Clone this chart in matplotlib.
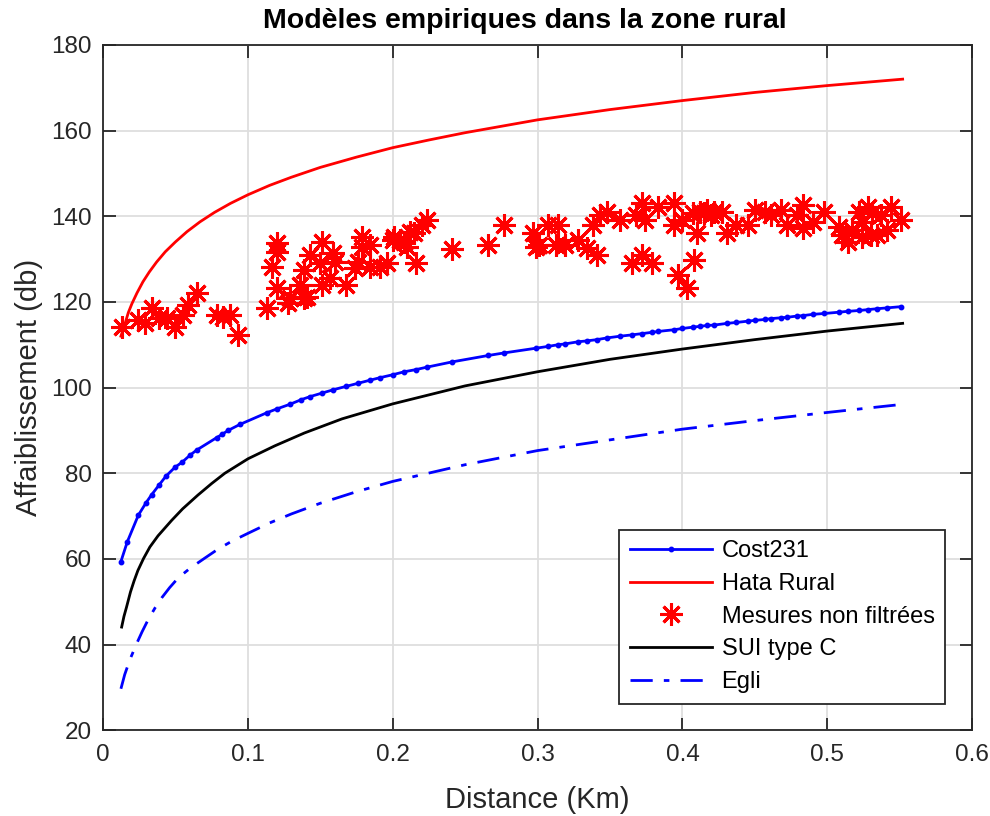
import matplotlib
matplotlib.use("Agg")
import matplotlib.pyplot as plt

plt.rcParams['font.family'] = ['Liberation Sans', 'DejaVu Sans']

# ---- data ----
meas_d = [0.013, 0.024, 0.029, 0.034, 0.039, 0.044, 0.050, 0.055, 0.059, 0.065,
          0.079, 0.083, 0.088, 0.093, 0.113, 0.117, 0.120, 0.120, 0.120, 0.128,
          0.129, 0.136, 0.139, 0.141, 0.139, 0.143, 0.150, 0.151, 0.151, 0.157,
          0.159, 0.160, 0.168, 0.174, 0.176, 0.179, 0.179, 0.184, 0.184, 0.191,
          0.196, 0.200, 0.201, 0.205, 0.208, 0.210, 0.212, 0.215, 0.216, 0.220,
          0.224, 0.241, 0.266, 0.277, 0.297, 0.299, 0.301, 0.307, 0.313, 0.314,
          0.319, 0.328, 0.334, 0.338, 0.341, 0.343, 0.348, 0.357, 0.365, 0.368,
          0.372, 0.372, 0.374, 0.379, 0.383, 0.394, 0.394, 0.397, 0.400, 0.403,
          0.407, 0.408, 0.410, 0.412, 0.415, 0.417, 0.420, 0.422, 0.427, 0.431,
          0.437, 0.445, 0.450, 0.457, 0.461, 0.468, 0.472, 0.479, 0.483, 0.483,
          0.490, 0.498, 0.508, 0.510, 0.514, 0.517, 0.522, 0.524, 0.524, 0.528,
          0.530, 0.531, 0.534, 0.537, 0.541, 0.544, 0.551]
meas_v = [114.1, 115.7, 115.0, 118.6, 116.2, 116.2, 114.1, 116.9, 119.3, 122.0,
          116.9, 116.4, 116.9, 112.2, 118.6, 128.1, 133.7, 131.6, 123.2, 119.7,
          120.9, 123.9, 120.9, 121.1, 127.4, 130.9, 129.1, 134.0, 123.9, 125.6,
          131.4, 129.3, 123.9, 127.9, 129.3, 135.1, 132.8, 133.3, 128.1, 128.1,
          129.1, 134.4, 135.1, 134.4, 134.0, 132.8, 136.3, 136.1, 129.1, 137.9,
          139.1, 132.3, 133.3, 137.9, 136.1, 132.8, 133.3, 137.9, 133.3, 137.9,
          133.3, 134.4, 132.6, 137.9, 131.0, 140.3, 141.0, 139.1, 129.1, 140.3,
          143.1, 131.0, 139.1, 129.1, 142.2, 143.1, 137.9, 126.3, 139.1, 123.2,
          140.7, 129.8, 136.1, 141.0, 140.7, 141.4, 140.3, 141.0, 141.0, 136.1,
          137.9, 137.9, 141.4, 141.0, 140.3, 141.4, 137.9, 140.3, 142.6, 137.2,
          138.6, 141.0, 137.5, 135.6, 134.0, 136.8, 141.0, 138.6, 135.1, 142.2,
          135.6, 140.7, 135.6, 140.3, 136.8, 142.2, 139.1]

cost_d = [0.0124, 0.0168, 0.0244, 0.0297, 0.0336, 0.0386, 0.0434, 0.0497, 0.0547, 0.060,
          0.0646, 0.0784, 0.0823, 0.0864, 0.0945, 0.1129, 0.1198, 0.129, 0.137, 0.143,
          0.151, 0.159, 0.168, 0.176, 0.184, 0.191, 0.200, 0.208, 0.216, 0.224,
          0.241, 0.266, 0.277, 0.299, 0.307, 0.314, 0.319, 0.328, 0.334, 0.341,
          0.348, 0.357, 0.365, 0.372, 0.379, 0.383, 0.394, 0.400, 0.407, 0.412,
          0.417, 0.422, 0.431, 0.437, 0.445, 0.450, 0.457, 0.461, 0.468, 0.472,
          0.479, 0.483, 0.490, 0.498, 0.508, 0.514, 0.522, 0.528, 0.534, 0.541, 0.551]
cost_v = [59.4, 64.0, 70.2, 73.1, 75.0, 77.2, 79.3, 81.4, 82.6, 84.2,
          85.4, 88.3, 89.1, 90.0, 91.4, 94.1, 95.0, 96.1, 97.2, 97.9,
          98.7, 99.5, 100.3, 101.0, 101.7, 102.3, 103.0, 103.7, 104.2, 104.8,
          106.0, 107.5, 108.1, 109.2, 109.6, 110.0, 110.2, 110.7, 110.9, 111.2,
          111.6, 112.0, 112.3, 112.6, 112.9, 113.1, 113.5, 113.8, 114.1, 114.3,
          114.5, 114.6, 115.0, 115.2, 115.5, 115.7, 115.9, 116.1, 116.3, 116.4,
          116.7, 116.8, 117.1, 117.3, 117.6, 117.8, 118.0, 118.2, 118.4, 118.6, 118.9]

hata_d = [0.0124, 0.0153, 0.0175, 0.020, 0.0235, 0.0276, 0.032, 0.037, 0.043, 0.050,
          0.058, 0.067, 0.077, 0.088, 0.100, 0.115, 0.130, 0.150, 0.175, 0.200,
          0.225, 0.250, 0.275, 0.300, 0.350, 0.400, 0.450, 0.500, 0.552]
hata_v = [112.0, 115.0, 117.5, 119.6, 122.1, 124.7, 127.0, 129.3, 131.7, 134.0,
          136.4, 138.7, 140.9, 143.0, 145.0, 147.2, 149.1, 151.4, 153.8, 156.0,
          157.8, 159.5, 161.0, 162.5, 164.9, 167.0, 168.9, 170.5, 172.0]

sui_d = [0.0129, 0.0145, 0.0163, 0.019, 0.0215, 0.0241, 0.028, 0.0324, 0.038, 0.0474,
         0.055, 0.0655, 0.075, 0.0841, 0.1002, 0.1186, 0.139, 0.165, 0.200, 0.250,
         0.300, 0.350, 0.400, 0.450, 0.500, 0.552]
sui_v = [44.1, 46.6, 48.8, 52.3, 54.9, 57.3, 60.1, 62.8, 65.4, 69.0,
         71.7, 74.9, 77.6, 80.0, 83.4, 86.4, 89.4, 92.7, 96.2, 100.4,
         103.7, 106.6, 109.0, 111.2, 113.2, 115.0]

egli_d = [0.0124, 0.015, 0.0186, 0.0232, 0.027, 0.0313, 0.036, 0.0405, 0.046, 0.052,
          0.060, 0.0703, 0.079, 0.0887, 0.1002, 0.115, 0.130, 0.150, 0.175, 0.200,
          0.250, 0.300, 0.350, 0.400, 0.450, 0.500, 0.552]
egli_v = [29.7, 33.0, 36.5, 40.2, 43.0, 45.9, 48.6, 50.9, 53.3, 55.6,
          57.8, 60.2, 62.2, 64.1, 66.0, 68.4, 70.5, 73.0, 75.7, 78.1,
          82.0, 85.3, 87.8, 90.3, 92.3, 94.2, 96.1]

x_ticks = [0, 0.1, 0.2, 0.3, 0.4, 0.5, 0.6]
y_ticks = [20, 40, 60, 80, 100, 120, 140, 160, 180]

# ---- figure ----
fig = plt.figure(figsize=(9.9, 8.16), dpi=100)
ax = fig.add_axes([0.104, 0.105, 0.878, 0.840])

ax.plot(cost_d, cost_v, '-', color='#0000ff', lw=2, marker='o', ms=3.2,
        label='Cost231', zorder=3)
ax.plot(hata_d, hata_v, '-', color='#ff0000', lw=2, label='Hata Rural', zorder=3)
ax.plot(meas_d, meas_v, linestyle='none', marker=(8, 2, 0), ms=16, mew=2.2,
        color='#ff0000', label='Mesures non filtrées', zorder=4)
ax.plot(sui_d, sui_v, '-', color='black', lw=2, label='SUI type C', zorder=3)
ax.plot(egli_d, egli_v, color='#0000ff', lw=2, dashes=(8, 4, 2, 4), label='Egli', zorder=3)

ax.set_xlim(0, 0.6)
ax.set_ylim(20, 180)
ax.set_xticks(x_ticks)
ax.set_yticks(y_ticks)
ax.set_xticklabels(['0', '0.1', '0.2', '0.3', '0.4', '0.5', '0.6'])
ax.grid(True, color='#dedede', lw=1.3)
ax.set_axisbelow(True)
ax.tick_params(direction='in', length=9, width=1.3, top=True, right=True,
               labelsize=17.5, colors='#262626')
ax.tick_params(axis='x', pad=10)
ax.tick_params(axis='y', pad=8)
for s in ax.spines.values():
    s.set_color('#262626')
    s.set_linewidth(1.3)

ax.set_xlabel('Distance (Km)', fontsize=21, color='#262626', labelpad=14)
ax.set_ylabel('Affaiblissement (db)', fontsize=21, color='#262626', labelpad=6)
ax.set_title('Modèles empiriques dans la zone rural', fontsize=20.5,
             fontweight='bold', pad=12, x=0.485)

leg = ax.legend(loc='lower right', bbox_to_anchor=(0.969, 0.039), borderaxespad=0,
                fontsize=17, numpoints=1, handlelength=3.5, handletextpad=0.4,
                labelspacing=0.45, borderpad=0.45, fancybox=False, framealpha=1,
                edgecolor='#262626')
leg.get_frame().set_linewidth(1.3)

fig.savefig('out.png', dpi=100)
